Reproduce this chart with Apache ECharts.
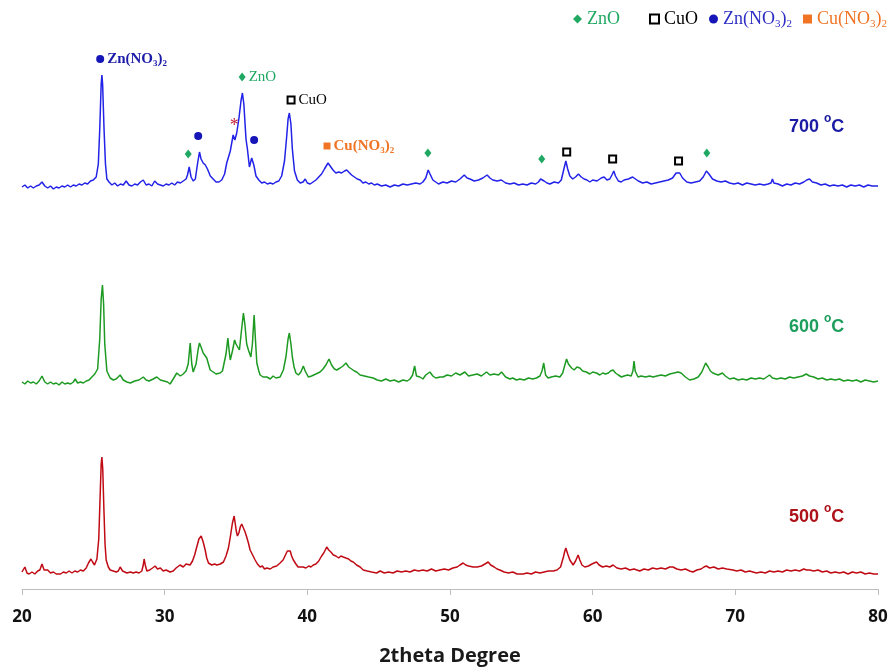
<!DOCTYPE html>
<html>
<head>
<meta charset="utf-8">
<script src="https://cdn.jsdelivr.net/npm/echarts@6/dist/echarts.min.js"></script>
<style>
  html, body { margin: 0; padding: 0; background: #fff; }
  #chart { width: 892px; height: 669px; }
</style>
</head>
<body>
<div id="chart"></div>
<script>
// --- XRD traces, [2theta, stacked intensity] ---
const trace700 = [
  [20.0,402],[20.2,404],[20.4,401],[20.6,403],[20.8,401],[21.0,403],[21.2,404],[21.4,407],[21.6,403],[21.8,401],
  [22.0,403],[22.2,400],[22.4,402],[22.6,401],[22.8,403],[23.0,402],[23.2,404],[23.4,402],[23.6,404],[23.8,403],
  [24.0,405],[24.2,404],[24.4,406],[24.6,405],[24.8,408],[25.0,409],[25.2,412],[25.35,425],[25.45,460],[25.55,505],
  [25.6,514],[25.65,505],[25.75,460],[25.85,425],[25.95,410],[26.1,407],[26.3,404],[26.5,406],[26.7,403],[26.9,405],
  [27.1,404],[27.3,408],[27.5,404],[27.7,403],[27.9,405],[28.1,404],[28.3,407],[28.5,409],[28.7,404],[28.9,405],
  [29.1,403],[29.3,408],[29.5,405],[29.7,404],[29.9,403],[30.1,405],[30.3,404],[30.5,406],[30.7,404],[30.9,407],
  [31.1,406],[31.3,408],[31.5,410],[31.6,414],[31.72,422],[31.85,412],[32.0,408],[32.15,410],[32.3,425],[32.44,437],
  [32.55,430],[32.7,426],[32.85,424],[33.0,420],[33.2,413],[33.4,410],[33.6,407],[33.8,407],[34.0,409],[34.2,415],
  [34.35,426],[34.45,424],[34.6,438],[34.8,454],[34.92,449],[35.05,456],[35.2,470],[35.35,488],[35.45,496],[35.55,485],
  [35.7,450],[35.8,440],[35.94,422],[36.1,431],[36.25,424],[36.4,413],[36.6,409],[36.8,406],[37.0,407],[37.2,405],
  [37.4,406],[37.6,405],[37.8,407],[38.0,408],[38.2,413],[38.4,428],[38.55,452],[38.65,470],[38.74,476],[38.85,465],
  [38.95,440],[39.1,418],[39.3,409],[39.5,406],[39.7,407],[39.85,410],[40.0,406],[40.2,405],[40.4,407],[40.6,409],
  [40.8,412],[41.0,415],[41.2,420],[41.45,426],[41.6,423],[41.8,419],[42.0,416],[42.2,417],[42.4,416],[42.6,418],
  [42.76,419],[42.9,417],[43.1,414],[43.3,412],[43.5,410],[43.7,409],[43.9,406],[44.1,407],[44.3,405],[44.5,406],
  [44.7,404],[44.9,405],[45.2,403],[45.5,404],[45.8,402],[46.1,404],[46.4,403],[46.7,405],[47.0,404],[47.3,405],
  [47.6,406],[47.9,405],[48.1,407],[48.3,411],[48.47,419],[48.6,415],[48.8,409],[49.0,407],[49.2,405],[49.5,407],
  [49.8,406],[50.1,408],[50.4,407],[50.7,410],[51.0,414],[51.2,411],[51.4,410],[51.7,408],[52.0,409],[52.3,411],
  [52.6,414],[52.8,411],[53.0,409],[53.3,408],[53.6,409],[53.9,406],[54.2,405],[54.5,406],[54.8,404],[55.1,405],
  [55.4,404],[55.7,406],[56.0,405],[56.2,407],[56.35,410],[56.48,412],[56.6,408],[56.8,406],[57.0,405],[57.3,407],
  [57.6,406],[57.8,409],[57.95,418],[58.12,428],[58.25,420],[58.4,413],[58.6,410],[58.8,412],[59.0,415],[59.2,412],
  [59.4,410],[59.6,409],[59.8,407],[60.0,409],[60.3,408],[60.6,411],[60.8,412],[61.0,409],[61.2,410],[61.35,414],
  [61.48,418],[61.6,413],[61.8,408],[62.0,407],[62.2,409],[62.5,410],[62.8,412],[63.0,410],[63.2,408],[63.5,406],
  [63.8,407],[64.1,405],[64.4,406],[64.7,407],[65.0,408],[65.3,409],[65.6,411],[65.85,416],[65.98,418],[66.1,416],
  [66.3,411],[66.6,407],[66.9,406],[67.2,407],[67.5,408],[67.75,412],[67.97,418],[68.15,415],[68.4,410],[68.7,408],
  [69.0,407],[69.3,408],[69.6,406],[69.9,405],[70.2,406],[70.5,404],[70.8,406],[71.1,405],[71.4,404],[71.7,405],
  [72.0,404],[72.3,405],[72.5,406],[72.6,410],[72.7,406],[73.0,405],[73.3,403],[73.6,405],[73.9,404],[74.2,406],
  [74.5,405],[74.8,407],[75.0,409],[75.2,410],[75.4,407],[75.7,406],[76.0,404],[76.3,405],[76.6,403],[76.9,404],
  [77.2,403],[77.5,404],[77.8,402],[78.1,404],[78.4,403],[78.7,404],[79.0,402],[79.3,404],[79.6,403],[80.0,403]
];

const trace600 = [
  [20.0,207],[20.2,205],[20.4,208],[20.6,206],[20.8,207],[21.0,205],[21.2,208],[21.4,213],[21.6,207],[21.8,205],
  [22.0,207],[22.2,205],[22.4,206],[22.6,204],[22.8,207],[23.0,205],[23.2,206],[23.4,205],[23.6,207],[23.73,210],
  [23.9,206],[24.1,207],[24.3,206],[24.5,208],[24.7,209],[24.9,212],[25.1,215],[25.3,220],[25.45,250],[25.55,290],
  [25.64,304],[25.72,285],[25.8,245],[25.95,218],[26.18,211],[26.4,209],[26.6,210],[26.88,214],[27.1,209],[27.35,207],
  [27.6,206],[27.9,208],[28.2,209],[28.5,212],[28.7,209],[28.9,208],[29.2,210],[29.45,212],[29.7,209],[29.95,208],
  [30.2,207],[30.38,205],[30.6,210],[30.85,216],[31.1,213],[31.3,215],[31.5,218],[31.65,225],[31.79,246],[31.9,225],
  [32.0,217],[32.2,225],[32.35,240],[32.44,246],[32.55,242],[32.7,236],[32.8,236],[32.95,231],[33.05,226],[33.19,219],
  [33.4,217],[33.6,215],[33.89,216],[34.05,218],[34.17,220],[34.3,235],[34.43,251],[34.52,238],[34.6,229],[34.75,238],
  [34.9,249],[35.0,245],[35.1,246],[35.24,239],[35.38,258],[35.52,276],[35.62,265],[35.75,245],[35.87,239],[36.04,232],
  [36.15,245],[36.27,274],[36.36,250],[36.46,226],[36.6,218],[36.69,214],[36.9,212],[37.16,212],[37.4,210],[37.6,213],
  [37.8,211],[38.09,212],[38.32,219],[38.5,232],[38.65,250],[38.74,256],[38.85,245],[38.95,232],[39.07,222],[39.2,216],
  [39.37,214],[39.55,217],[39.72,223],[39.85,218],[40.07,212],[40.3,213],[40.6,215],[40.89,217],[41.1,220],[41.3,224],
  [41.52,230],[41.7,224],[41.9,220],[42.06,219],[42.3,221],[42.5,223],[42.71,226],[42.9,222],[43.1,220],[43.3,218],
  [43.46,217],[43.7,214],[44.0,213],[44.3,212],[44.62,211],[44.9,209],[45.2,208],[45.5,210],[45.8,208],[46.1,209],
  [46.4,207],[46.7,209],[47.0,208],[47.2,210],[47.38,214],[47.52,223],[47.65,213],[47.89,212],[48.1,210],[48.3,214],
  [48.59,217],[48.8,213],[49.0,211],[49.3,212],[49.52,212],[49.8,214],[50.1,213],[50.4,216],[50.7,214],[51.04,217],
  [51.3,213],[51.6,214],[51.9,215],[52.2,213],[52.56,217],[52.8,214],[53.1,215],[53.4,214],[53.61,217],[53.9,212],
  [54.2,210],[54.4,211],[54.66,209],[54.9,210],[55.2,209],[55.5,211],[55.8,210],[56.06,211],[56.3,213],[56.45,218],
  [56.57,226],[56.7,214],[56.88,211],[57.1,212],[57.4,213],[57.7,212],[57.9,216],[58.05,224],[58.17,230],[58.3,225],
  [58.52,221],[58.7,219],[58.9,222],[59.1,221],[59.3,218],[59.55,217],[59.8,215],[60.0,217],[60.27,216],[60.5,214],
  [60.7,216],[60.9,215],[61.1,216],[61.25,218],[61.43,219],[61.6,216],[61.8,214],[62.02,212],[62.2,213],[62.45,214],
  [62.7,213],[62.82,218],[62.9,228],[62.98,218],[63.18,212],[63.4,213],[63.7,212],[64.0,213],[64.23,212],[64.5,213],
  [64.8,214],[65.1,213],[65.4,215],[65.7,216],[65.98,217],[66.2,216],[66.5,212],[66.8,209],[67.1,210],[67.4,212],
  [67.65,217],[67.92,226],[68.1,222],[68.25,218],[68.43,216],[68.6,215],[68.8,214],[69.09,216],[69.3,213],[69.6,210],
  [69.9,211],[70.2,209],[70.5,210],[70.8,209],[71.1,211],[71.4,210],[71.7,211],[72.0,210],[72.2,212],[72.4,214],
  [72.6,211],[72.9,210],[73.2,211],[73.5,210],[73.8,212],[74.1,211],[74.4,212],[74.7,213],[74.97,215],[75.2,213],
  [75.5,212],[75.8,210],[76.1,211],[76.4,209],[76.7,210],[77.0,209],[77.3,210],[77.6,208],[77.9,209],[78.2,208],
  [78.5,209],[78.8,207],[79.1,209],[79.4,208],[79.7,207],[80.0,208]
];

const trace500 = [
  [20.0,17],[20.2,22],[20.35,16],[20.5,15],[20.7,17],[20.9,15],[21.1,18],[21.25,19],[21.4,25],[21.55,19],
  [21.8,19],[22.0,16],[22.2,17],[22.4,15],[22.7,15],[22.9,17],[23.1,16],[23.3,18],[23.5,16],[23.7,18],
  [23.9,17],[24.1,19],[24.3,18],[24.5,21],[24.66,26],[24.83,30],[24.95,27],[25.08,24],[25.25,30],[25.38,50],
  [25.47,90],[25.55,125],[25.6,132],[25.66,120],[25.74,80],[25.82,45],[25.9,29],[26.05,22],[26.18,19],[26.4,18],
  [26.6,17],[26.75,18],[26.88,22],[27.05,18],[27.35,16],[27.6,17],[27.8,16],[28.0,17],[28.2,16],[28.4,18],
  [28.5,24],[28.56,30],[28.64,24],[28.75,18],[28.95,19],[29.15,21],[29.33,23],[29.5,20],[29.7,21],[29.9,18],
  [30.1,19],[30.38,17],[30.6,18],[30.8,21],[31.08,24],[31.3,22],[31.5,25],[31.78,24],[31.95,28],[32.1,34],
  [32.25,42],[32.4,50],[32.56,53],[32.7,47],[32.84,39],[32.95,31],[33.07,26],[33.3,24],[33.5,25],[33.66,24],
  [33.9,25],[34.12,27],[34.3,33],[34.47,41],[34.6,52],[34.75,66],[34.87,73],[34.95,65],[35.02,58],[35.1,53],
  [35.2,56],[35.3,62],[35.4,65],[35.48,66],[35.55,60],[35.64,57],[35.75,52],[35.87,46],[35.99,39],[36.1,37],
  [36.2,33],[36.34,29],[36.5,25],[36.69,22],[36.85,23],[37.0,20],[37.16,21],[37.4,20],[37.6,22],[37.85,23],
  [38.09,26],[38.3,29],[38.5,35],[38.6,38],[38.7,40],[38.8,38],[38.9,33],[39.02,29],[39.2,25],[39.35,22],
  [39.49,21],[39.7,22],[39.9,21],[40.1,23],[40.25,22],[40.42,24],[40.6,25],[40.8,28],[41.0,33],[41.15,36],
  [41.36,42],[41.5,39],[41.65,37],[41.82,34],[42.0,33],[42.2,31],[42.35,33],[42.52,32],[42.7,31],[42.9,30],
  [43.05,28],[43.22,27],[43.45,24],[43.7,22],[43.92,19],[44.2,18],[44.5,17],[44.86,16],[45.1,18],[45.4,16],
  [45.7,17],[46.0,16],[46.3,18],[46.6,17],[46.9,18],[47.2,17],[47.5,19],[47.8,18],[48.1,19],[48.4,18],
  [48.7,20],[49.0,18],[49.29,19],[49.6,20],[49.9,19],[50.2,21],[50.5,22],[50.7,24],[50.92,26],[51.1,24],
  [51.3,23],[51.62,22],[51.9,22],[52.2,23],[52.45,25],[52.68,27],[52.85,24],[53.1,22],[53.3,20],[53.49,19],
  [53.8,17],[54.1,16],[54.4,17],[54.7,15],[55.13,15],[55.4,16],[55.7,15],[56.0,17],[56.3,16],[56.6,17],
  [56.9,18],[57.23,18],[57.5,19],[57.75,22],[57.95,32],[58.05,38],[58.12,41],[58.25,35],[58.4,29],[58.63,24],
  [58.8,28],[58.98,34],[59.1,29],[59.25,24],[59.45,22],[59.7,23],[59.95,25],[60.1,26],[60.27,27],[60.45,24],
  [60.7,22],[60.95,23],[61.2,22],[61.43,24],[61.7,21],[62.0,20],[62.3,21],[62.6,19],[62.9,20],[63.3,18],
  [63.6,20],[63.9,19],[64.2,21],[64.5,20],[64.8,21],[65.1,20],[65.4,22],[65.63,22],[65.9,20],[66.2,19],
  [66.5,20],[66.8,18],[67.03,17],[67.3,19],[67.6,20],[67.8,22],[67.97,23],[68.2,21],[68.5,22],[68.8,20],
  [69.1,21],[69.4,20],[69.83,19],[70.1,18],[70.4,19],[70.7,17],[71.0,18],[71.47,16],[71.8,17],[72.1,16],
  [72.4,18],[72.7,17],[73.0,18],[73.3,17],[73.6,19],[73.9,18],[74.2,19],[74.5,18],[74.8,20],[75.0,19],
  [75.2,19],[75.5,18],[75.8,19],[76.1,17],[76.4,18],[76.7,16],[77.0,17],[77.3,16],[77.6,17],[77.9,15],
  [78.2,17],[78.5,16],[78.8,17],[79.1,15],[79.4,16],[79.7,15],[80.0,15]
];

// --- phase markers on the 700 °C pattern ---
const znoMarks = [[31.65,435],[35.43,512],[48.45,436],[56.43,430],[68.0,436]];
const cuoMarks = [[38.86,489],[58.18,437],[61.4,430],[66.02,428]];
const znNitrateMarks = [[25.48,530],[32.35,453],[36.27,449]];
const cuNitrateMarks = [[41.38,443]];
const starMarks = [[34.87,463]];

// temperature labels: [2theta, y, text]
const tempLabels = [[75.7,462,'700'],[75.7,262,'600'],[75.7,72,'500']];
const xTicks = { min: 20, max: 80, step: 10 };

const C_BLUE = '#2222e8', C_GREEN = '#1d9a22', C_RED = '#c00a14';
const C_ZNO = '#1fa862', C_ZNN = '#1616b8', C_CUN = '#f07424';
const SERIF = 'Liberation Serif, Times New Roman, serif';

const chart = echarts.init(document.getElementById('chart'));

// rich styles for formula labels with subscripts
function richSet(key, color, size, bold) {
  const o = {};
  o[key] = { fontFamily: SERIF, fontSize: size, fontWeight: bold ? 'bold' : 'normal', color: color, lineHeight: size + 4 };
  o[key + 's'] = { fontFamily: SERIF, fontSize: Math.round(size * 0.62), fontWeight: bold ? 'bold' : 'normal',
    color: color, verticalAlign: 'bottom', lineHeight: Math.round(size * 0.62) };
  return o;
}
const plotRich = Object.assign({}, richSet('b', '#1c1ca8', 15, true), richSet('o', C_CUN, 15, true),
  richSet('g', C_ZNO, 15, false), richSet('k', '#000', 15, false));
const legendRich = Object.assign({}, richSet('G', C_ZNO, 18, false), richSet('K', '#000', 18, false),
  richSet('B', '#2e2ec4', 18, false), richSet('O', C_CUN, 18, false));
legendRich.G.padding = [0, 18, 0, 0];

function withLabel(points, idx, text) {
  return points.map((p, i) => i !== idx ? p : {
    value: p,
    label: { show: true, position: 'right', distance: 3, formatter: text, rich: plotRich }
  });
}

const lineBase = { type: 'line', showSymbol: false, symbol: 'none', silent: true, z: 2 };
const markBase = { type: 'scatter', z: 5, silent: true };
const tempColors = ['#1a1aa4', '#1d9e5c', '#ae1219'];

const option = {
  animation: false,
  backgroundColor: '#fff',
  grid: { left: 22, right: 14, top: 29, bottom: 80, containLabel: false, outerBoundsMode: 'none' },
  legend: {
    data: ['ZnO', 'CuO', 'Zn(NO3)2', 'Cu(NO3)2'],
    left: 568, top: 5, width: 420,
    itemWidth: 9, itemHeight: 9, itemGap: 11,
    textStyle: { fontFamily: SERIF, fontSize: 18, rich: legendRich },
    formatter: function (name) {
      if (name === 'ZnO') return '{G|ZnO}';
      if (name === 'CuO') return '{K|CuO}';
      if (name === 'Zn(NO3)2') return '{B|Zn(NO}{Bs|3}{B|)}{Bs|2}';
      return '{O|Cu(NO}{Os|3}{O|)}{Os|2}';
    }
  },
  xAxis: {
    type: 'value', min: xTicks.min, max: xTicks.max, interval: xTicks.step,
    axisLine: { lineStyle: { color: '#bdbdbd', width: 1 } },
    axisTick: { show: true, length: 6, lineStyle: { color: '#bdbdbd' } },
    splitLine: { show: false },
    axisLabel: { color: '#111', fontFamily: 'Open Sans', fontWeight: 'bold', fontSize: 17, margin: 20 },
    name: '2theta Degree', nameLocation: 'middle', nameGap: 57,
    nameTextStyle: { color: '#1a1a1a', fontFamily: 'Open Sans', fontWeight: 'bold', fontSize: 20 }
  },
  yAxis: { type: 'value', min: 0, max: 560, show: false },
  series: [
    Object.assign({ name: '700', data: trace700, lineStyle: { color: C_BLUE, width: 1.5 } }, lineBase),
    Object.assign({ name: '600', data: trace600, lineStyle: { color: C_GREEN, width: 1.5 } }, lineBase),
    Object.assign({ name: '500', data: trace500, lineStyle: { color: C_RED, width: 1.5 } }, lineBase),
    Object.assign({
      name: 'ZnO', symbol: 'diamond', symbolSize: [7, 9],
      itemStyle: { color: C_ZNO, opacity: 1 }, data: withLabel(znoMarks, 1, '{g|ZnO}')
    }, markBase),
    Object.assign({
      name: 'CuO', symbol: 'emptyRect', symbolSize: 7,
      itemStyle: { color: '#000', borderWidth: 1.6, opacity: 1 }, data: withLabel(cuoMarks, 0, '{k|CuO}')
    }, markBase),
    Object.assign({
      name: 'Zn(NO3)2', symbol: 'circle', symbolSize: 8,
      itemStyle: { color: C_ZNN, opacity: 1 }, data: withLabel(znNitrateMarks, 0, '{b|Zn(NO}{bs|3}{b|)}{bs|2}')
    }, markBase),
    Object.assign({
      name: 'Cu(NO3)2', symbol: 'rect', symbolSize: 7,
      itemStyle: { color: C_CUN, opacity: 1 }, data: withLabel(cuNitrateMarks, 0, '{o|Cu(NO}{os|3}{o|)}{os|2}')
    }, markBase),
    Object.assign({
      name: 'star', symbolSize: 0, data: starMarks, itemStyle: { opacity: 1 },
      label: { show: true, position: 'inside', formatter: '*', color: '#c4203a', fontSize: 18, fontFamily: SERIF }
    }, markBase),
    Object.assign({
      name: 'temps', symbolSize: 0, itemStyle: { opacity: 1 },
      data: tempLabels.map((t, i) => ({
        value: [t[0], t[1]],
        label: {
          show: true, position: 'inside',
          formatter: '{t|' + t[2] + ' }{u|o}{t|C}',
          rich: {
            t: { fontFamily: 'Liberation Sans, Arial', fontWeight: 'bold', fontSize: 18, lineHeight: 28,
              color: tempColors[i] },
            u: { fontFamily: 'Liberation Sans, Arial', fontWeight: 'bold', fontSize: 12, lineHeight: 12,
              verticalAlign: 'top', color: tempColors[i] }
          }
        }
      }))
    }, markBase)
  ]
};

chart.setOption(option);
</script>
</body>
</html>
